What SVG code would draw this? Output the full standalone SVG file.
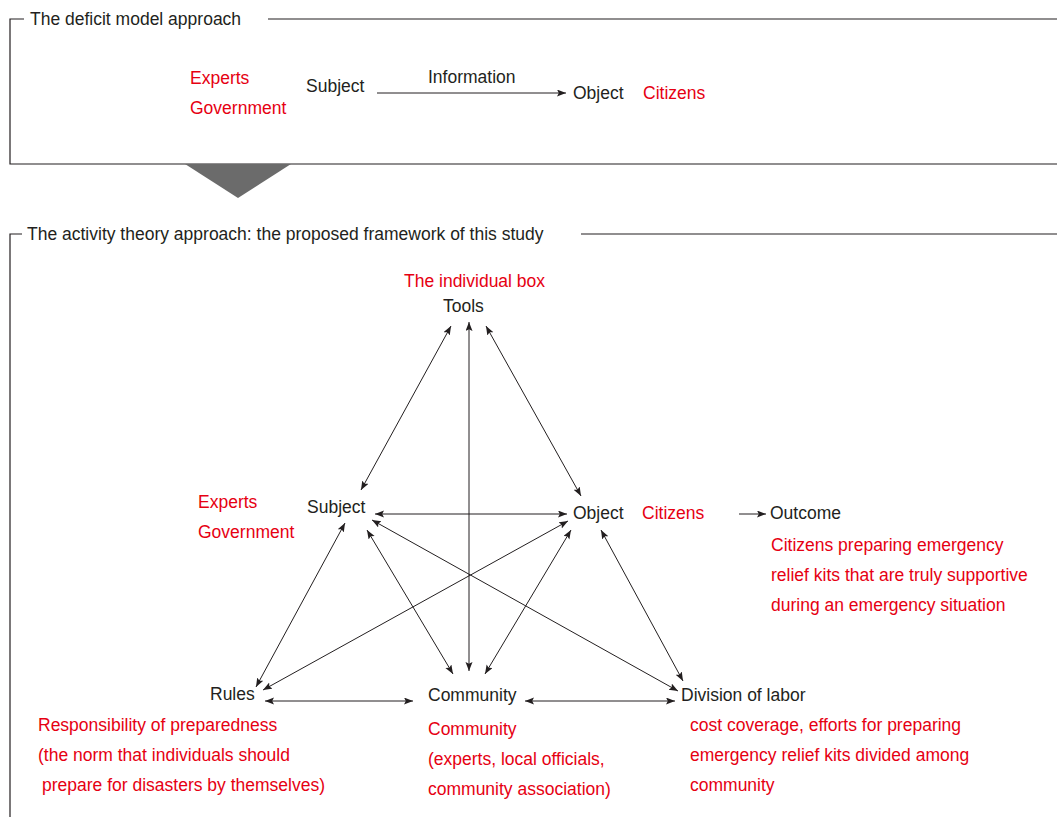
<svg xmlns="http://www.w3.org/2000/svg" width="1057" height="817" viewBox="0 0 1057 817">
  <style>
    text { font-family: "Liberation Sans", Arial, sans-serif; font-size: 17.5px; fill: #231f20; }
    text.red { fill: #e60012; }
    .frame { fill: none; stroke: #231f20; stroke-width: 1.2; }
    .link { fill: none; stroke: #231f20; stroke-width: 1; }
  </style>
  <defs>
    <marker id="head" markerUnits="userSpaceOnUse" markerWidth="10" markerHeight="8" refX="9" refY="3.5" orient="auto-start-reverse">
      <path d="M0,0 L9,3.5 L0,7 L1.8,3.5 Z" fill="#231f20"/>
    </marker>
  </defs>

  <rect width="1057" height="817" fill="#ffffff"/>

  <!-- upper panel: deficit model -->
  <g id="panel-deficit">
    <polyline class="frame" points="24,19 10,19 10,164 1057,164"/>
    <line class="frame" x1="268" y1="19" x2="1057" y2="19"/>
    <text x="30" y="25">The deficit model approach</text>
  </g>

  <!-- transition wedge -->
  <polygon id="wedge" points="185,164 291,164 238,198" fill="#6b6b6b"/>

  <g id="deficit-subject">
    <text class="red" x="190" y="84">Experts</text>
    <text class="red" x="190" y="114">Government</text>
    <text x="306" y="92">Subject</text>
  </g>
  <g id="deficit-object">
    <text x="573" y="99">Object</text>
    <text class="red" x="643" y="99">Citizens</text>
  </g>
  <g id="deficit-connector">
    <line class="link" x1="377" y1="93" x2="566" y2="93" marker-end="url(#head)"/>
    <text x="428" y="83">Information</text>
  </g>

  <!-- lower panel: activity theory -->
  <g id="panel-activity">
    <polyline class="frame" points="22,234 10,234 10,817"/>
    <line class="frame" x1="581" y1="234" x2="1057" y2="234"/>
    <text x="27" y="240">The activity theory approach: the proposed framework of this study</text>
  </g>

  <g id="node-tools">
    <text class="red" x="404" y="287">The individual box</text>
    <text x="443" y="312">Tools</text>
  </g>

  <g id="node-subject">
    <text class="red" x="198" y="508">Experts</text>
    <text class="red" x="198" y="538">Government</text>
    <text x="307" y="513">Subject</text>
  </g>

  <g id="node-object">
    <text x="573" y="519">Object</text>
    <text class="red" x="642" y="519">Citizens</text>
  </g>

  <g id="node-outcome">
    <text x="770" y="519">Outcome</text>
    <text class="red" x="771" y="551">Citizens preparing emergency</text>
    <text class="red" x="771" y="581">relief kits that are truly supportive</text>
    <text class="red" x="771" y="611">during an emergency situation</text>
  </g>

  <g id="node-rules">
    <text x="210" y="700">Rules</text>
    <text class="red" x="38" y="731">Responsibility of preparedness</text>
    <text class="red" x="38" y="761">(the norm that individuals should</text>
    <text class="red" x="42" y="791">prepare for disasters by themselves)</text>
  </g>

  <g id="node-community">
    <text x="428" y="701">Community</text>
    <text class="red" x="428" y="735">Community</text>
    <text class="red" x="428" y="765">(experts, local officials,</text>
    <text class="red" x="428" y="795">community association)</text>
  </g>

  <g id="node-division">
    <text x="681" y="701">Division of labor</text>
    <text class="red" x="690" y="731">cost coverage, efforts for preparing</text>
    <text class="red" x="690" y="761">emergency relief kits divided among</text>
    <text class="red" x="690" y="791">community</text>
  </g>

  <!-- connectors of the activity system -->
  <g id="connectors">
    <line class="link" x1="451" y1="326" x2="361" y2="490" marker-start="url(#head)" marker-end="url(#head)"/>
    <line class="link" x1="469" y1="322" x2="469" y2="671" marker-start="url(#head)" marker-end="url(#head)"/>
    <line class="link" x1="486" y1="326" x2="581" y2="496" marker-start="url(#head)" marker-end="url(#head)"/>
    <line class="link" x1="375" y1="514" x2="567" y2="514" marker-start="url(#head)" marker-end="url(#head)"/>
    <line class="link" x1="345" y1="523" x2="256" y2="687" marker-start="url(#head)" marker-end="url(#head)"/>
    <line class="link" x1="367" y1="530" x2="453" y2="674" marker-start="url(#head)" marker-end="url(#head)"/>
    <line class="link" x1="372" y1="520" x2="678" y2="691" marker-start="url(#head)" marker-end="url(#head)"/>
    <line class="link" x1="568" y1="521" x2="263" y2="690" marker-start="url(#head)" marker-end="url(#head)"/>
    <line class="link" x1="571" y1="530" x2="485" y2="674" marker-start="url(#head)" marker-end="url(#head)"/>
    <line class="link" x1="601" y1="530" x2="683" y2="681" marker-start="url(#head)" marker-end="url(#head)"/>
    <line class="link" x1="265" y1="701" x2="413" y2="701" marker-start="url(#head)" marker-end="url(#head)"/>
    <line class="link" x1="525" y1="701" x2="675" y2="701" marker-start="url(#head)" marker-end="url(#head)"/>
    <line class="link" x1="739" y1="514" x2="766" y2="514" marker-end="url(#head)"/>
  </g>
</svg>
